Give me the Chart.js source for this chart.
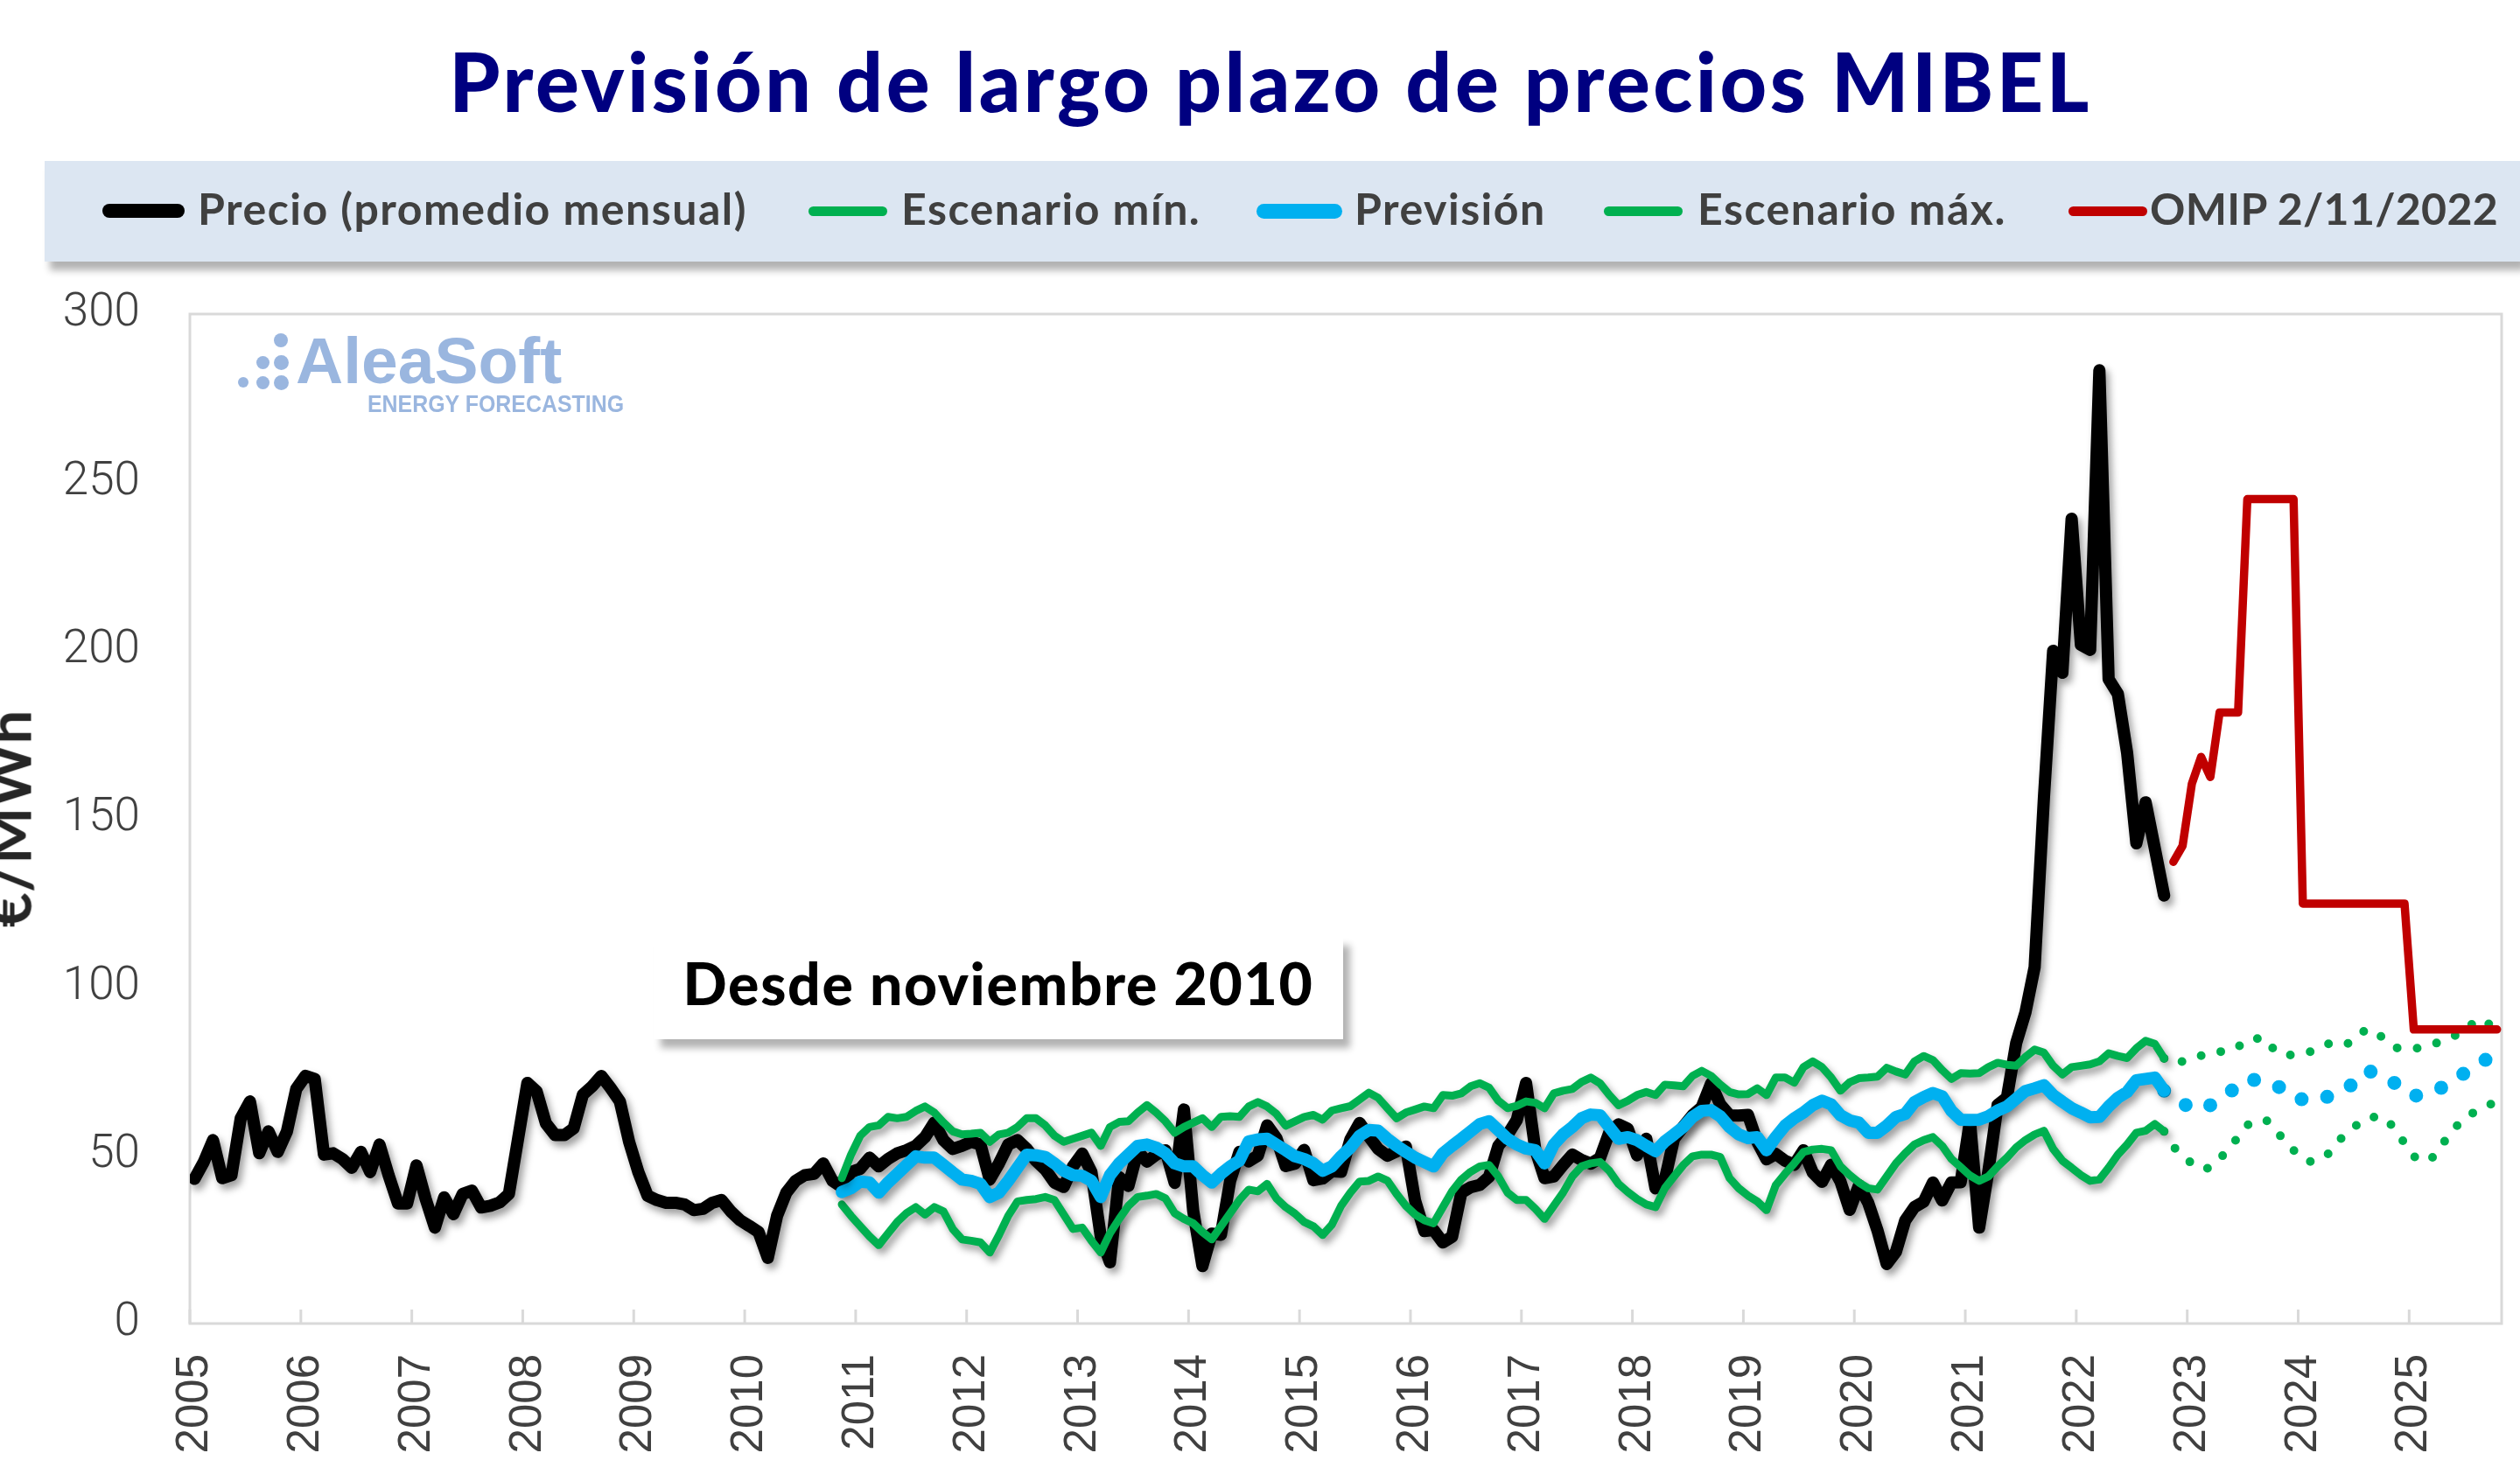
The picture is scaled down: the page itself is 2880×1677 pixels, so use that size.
<!DOCTYPE html>
<html>
<head>
<meta charset="utf-8">
<script src="https://cdn.jsdelivr.net/npm/chart.js@4.4.0/dist/chart.umd.min.js"></script>
<style>
  html, body { margin: 0; padding: 0; width: 2880px; height: 1677px; overflow: hidden; background: #fff; }
  #wrap { position: relative; width: 2880px; height: 1677px; overflow: hidden; }
  #c { position: absolute; left: 0; top: 0; }
  #title { position: absolute; left: 12px; width: 2880px; top: 46px; text-align: center;
    font: 900 93px/93px Lato, 'Open Sans', sans-serif; letter-spacing: 3.5px; color: #000080; white-space: nowrap; }
  #band { position: absolute; left: 51px; top: 184px; width: 2829px; height: 115px; background: #DCE6F2;
    box-shadow: 6px 10px 8px rgba(0,0,0,0.30); }
  .sw { position: absolute; }
  .lt { position: absolute; font: 700 50px/50px Lato, 'Open Sans', sans-serif; letter-spacing: 1.5px; color: #404040; white-space: nowrap; }
  #ytitle { position: absolute; font: 700 69px/69px Lato, 'Open Sans', sans-serif; color: #262626; white-space: nowrap;
    transform: translate(-50%, -50%) rotate(-90deg); left: 9px; top: 936px; }
  #note { position: absolute; left: 747px; top: 1071px; width: 788px; height: 117px; background: #fff;
    box-shadow: 8px 10px 8px rgba(0,0,0,0.30); }
  #note span { position: absolute; left: 0; right: 0; top: 20px; text-align: center;
    font: 900 66px/66px Lato, 'Open Sans', sans-serif; letter-spacing: 1.7px; color: #000; white-space: nowrap; }
  .dot { position: absolute; border-radius: 50%; background: #9AB6DF; }
  #logo1 { position: absolute; left: 338px; top: 375px; font: 700 75px/75px 'Liberation Sans', Arial, sans-serif; color: #9AB6DF; white-space: nowrap; }
  #logo2 { position: absolute; left: 420px; top: 448px; font: 700 28px/28px 'Liberation Sans', Arial, sans-serif; color: #9AB6DF;
    white-space: nowrap; transform: scaleX(0.89); transform-origin: left top; }
</style>
</head>
<body>
<div id="wrap">
  <canvas id="c" width="2880" height="1677"></canvas>
  <div id="title">Previsión de largo plazo de precios MIBEL</div>
  <div id="band"></div>
  <div id="legend"></div>
  <div id="ytitle">€/MWh</div>
  <div id="note"><span>Desde noviembre 2010</span></div>
  <div id="logo"></div>
  <div id="logo1">AleaSoft</div>
  <div id="logo2">ENERGY FORECASTING</div>
</div>
<script>
// month index 0 = Jan 2005, points sit in the middle of each month slot
const yearLabels = ['2005','2006','2007','2008','2009','2010','2011','2012','2013','2014','2015',
  '2016','2017','2018','2019','2020','2021','2022','2023','2024','2025'];

const seriesNames = ['Precio (promedio mensual)', 'Escenario mín.', 'Previsión', 'Escenario máx.', 'OMIP 2/11/2022'];

// Jan 2005 - Oct 2022
const precio = [
  43, 48, 54.5, 43.2, 44.1, 61, 66, 50.6, 57.1, 51, 57.1, 69.7,
  73.6, 72.7, 50.2, 50.6, 48.9, 46.3, 51, 45, 53.2, 44, 35.7, 35.7,
  47, 37, 28.5, 37.5, 32.5, 38.5, 39.5, 34.5, 35, 36, 38.5, 55,
  71.5, 69, 59.5, 56, 56, 58, 68, 70.5, 73.6, 70, 66, 54,
  45, 38, 36.7, 35.9, 35.9, 35.4, 33.7, 34.1, 35.9, 36.7, 33.3, 30.7,
  29, 27.2, 19.5, 32, 38.9, 42.4, 44.1, 44.5, 47.6, 42.4, 40.6, 45,
  46, 49.3, 46.7, 48.9, 50.6, 51.5, 52.8, 55.4, 59.7, 54.5, 51.9, 52.8,
  54, 53.2, 42.8, 47.6, 53.2, 54.5, 51.9, 48.4, 45.8, 41.9, 40.6, 46.7,
  50.5, 45, 25.9, 18.2, 43.5, 40.9, 51.2, 48.1, 50.2, 51.5, 41.8, 63.6,
  33.6, 17.1, 26.7, 26.4, 42.4, 51, 48.2, 49.9, 58.9, 55.1, 46.8, 47.5,
  51.6, 42.6, 43.1, 45.3, 45.1, 54.7, 59.6, 55.6, 51.9, 49.9, 51.2, 52.6,
  36.5, 27.5, 27.8, 24.1, 25.8, 38.9, 40.5, 41.2, 43.6, 52.8, 56.1, 60.5,
  71.5, 51.7, 43.2, 43.7, 47.1, 50.2, 48.6, 47.5, 49.2, 56.8, 59.2, 57.9,
  50, 54.9, 40.2, 42.7, 54.9, 58.5, 61.9, 64.3, 71.3, 65.1, 61.9, 61.8,
  62, 54, 48.8, 50.4, 48.4, 47.2, 51.5, 44.9, 42.1, 47.2, 42.2, 33.8,
  41.1, 35.9, 27.7, 17.7, 21.3, 30.6, 34.6, 36.2, 41.9, 36.6, 41.9, 42,
  60.2, 28.5, 45.4, 65, 67.1, 83.3, 92.4, 105.9, 156.1, 199.9, 193.4, 239.2,
  201.7, 200.2, 283.3, 191.5, 187.1, 169.6, 142.7, 154.9, 141.1, 127.2
];

// Nov 2010 - Oct 2025
const escMin = [
  35.4, 32,
  28.9, 25.9, 23.3, 26.8, 30.2, 32.8, 34.6, 32.4, 34.6, 33.3, 28.1, 25,
  24.6, 24.1, 21.1, 26.3, 32, 36.3, 36.7, 37, 37.6, 36.7, 32.4, 28.1,
  28.5, 24.6, 21.1, 26.8, 31.1, 35, 37.6, 38, 38.5, 37.2, 32.8, 31.1,
  29.8, 27.2, 25, 28.9, 32.8, 36.7, 39.8, 39.3, 41.5, 37.2, 34.6, 32.7,
  30.2, 28.9, 26.3, 29.4, 35, 38.9, 42.2, 42.4, 43.7, 42.5, 38.5, 35,
  32.4, 30.7, 29.8, 34.6, 39.3, 42.8, 45.1, 46.7, 47.1, 43.7, 38.9, 36.7,
  36.7, 34.1, 31.1, 35, 38.9, 43.7, 46.7, 47.6, 48, 45.4, 41.5, 39.1,
  37, 35.4, 34.6, 40.2, 43.7, 47.1, 49.7, 50.2, 50.2, 49.5, 43.2, 40.2,
  38, 36.3, 33.7, 41.1, 44.5, 47.6, 51, 51.7, 51.9, 51.5, 46.7, 44.1,
  41.9, 40.2, 39.8, 43.7, 47.6, 50.6, 53.2, 54.5, 55.4, 52.8, 48.9, 46.5,
  44, 42.4, 43.7, 46.7, 49.3, 52.3, 54.5, 56.2, 57.3, 51.9, 48.4, 46.3,
  44.1, 42.4, 42.8, 46.3, 50.2, 53.2, 56.7, 57.3, 59.3, 57.1,
  52.6, 49.7, 47.6, 45.8, 46.3, 48.9, 51.9, 55.4, 59, 60.1, 60.6, 57.5,
  54.5, 51.5, 48.9, 48, 48.9, 51, 54.6, 57.3, 59.3, 61.2, 61.4, 61,
  57.5, 53.6, 49.7, 48.1, 49.3, 52.8, 56.9, 59.7, 61.9, 63.6, 64.9, 65.8
];

const prevision = [
  39.1, 40.2,
  42.2, 41.9, 38.9, 41.9, 44.5, 47.1, 49.7, 49.3, 49.3, 47.1, 44.9, 42.8,
  42.4, 41.5, 37.6, 38.9, 42.4, 46.3, 50.2, 50, 49.5, 47.6, 45.4, 44.1,
  43.9, 42.4, 37.6, 44.1, 47.6, 50.2, 52.8, 53.2, 52.3, 50.6, 47.6, 46.7,
  46.7, 44.1, 41.9, 44.5, 46.7, 48.4, 54.1, 54.7, 54.9, 53.2, 51.5, 49.7,
  48.9, 47.6, 45.4, 46.7, 49.7, 52.3, 55.8, 57.5, 57.3, 54.9, 52.8, 51,
  49.3, 48, 46.7, 50.6, 52.8, 54.9, 57.1, 59.3, 60.1, 57.5, 54.9, 53.2,
  52, 51.5, 47.6, 53.2, 56.2, 58.4, 61, 62.1, 61.9, 58.4, 54.9, 55.4,
  54.5, 52.8, 51.2, 54.1, 56.2, 58.4, 61.4, 63.2, 63.4, 61.6, 58.4, 56.2,
  55.1, 55.4, 51.5, 55.4, 58.8, 61, 62.7, 64.9, 66.2, 65.1, 61.9, 60.4,
  59.7, 56.7, 56.7, 58.8, 61.4, 62.3, 65.8, 67.3, 68.5, 67.5, 63.2, 60.6,
  60.5, 60.6, 61.6, 63.3, 64.5, 66.8, 69.1, 69.9, 70.8, 67.9, 65.9, 64,
  62.7, 61.3, 61.4, 64.5, 67.1, 68.8, 72.3, 72.7, 73.1, 69.2,
  66.6, 65.3, 64.2, 63.6, 64.9, 66.6, 68.4, 71, 72.7, 72.3, 71.8, 71.1,
  69.2, 67.1, 66.6, 66.5, 66.5, 67.9, 69.2, 70.3, 72.9, 75.3, 74, 72.5,
  71.4, 69.2, 67.5, 68.4, 69.2, 70.1, 72.3, 73.6, 75.3, 77, 78.8, 80.1
];

const escMax = [
  43.2, 50.2,
  55.8, 58.4, 58.9, 61.4, 61, 61.4, 63.2, 64.5, 62.7, 59.7, 57.1, 56.2,
  56.4, 56.7, 54, 56.2, 56.7, 58.4, 61, 61, 58.9, 55.8, 54, 54.9,
  55.8, 56.7, 52.8, 58.4, 59.9, 60.1, 62.7, 64.9, 62.7, 60.1, 56.7, 58.4,
  59.7, 61, 58.4, 61.4, 61.6, 61.4, 64.5, 65.8, 64.5, 62.3, 58.8, 60.1,
  61.4, 62, 60.6, 63.3, 64, 64.6, 66.6, 68.6, 67.1, 64, 61, 62.7,
  63.6, 64.5, 64, 67.9, 67.7, 68.4, 70.5, 71.4, 70.1, 66.2, 64, 64.7,
  66, 65.6, 64, 68.4, 69.2, 69.7, 71.8, 73.1, 71.4, 67.9, 64.9, 66.2,
  67.9, 68.8, 67.9, 71, 70.8, 70.5, 73.6, 75.1, 73.6, 71, 68.8, 68.1,
  68.2, 69.9, 67.9, 73.1, 73.1, 71.6, 76.2, 77.9, 76.2, 73.1, 69.2, 71.7,
  72.9, 73.1, 73.4, 76, 74.9, 74, 77.9, 79.5, 78.3, 75.3, 72.7, 74.4,
  74.3, 74.4, 76.2, 77.5, 76.9, 76.6, 79.2, 81.4, 80.5, 76.6, 74, 76.2,
  76.6, 77, 77.9, 80.3, 79.5, 78.9, 81.8, 84, 83.1, 78.8,
  77, 77.9, 78.6, 79.6, 80.5, 80.8, 80.9, 82.2, 84.4, 84.7, 84.7, 80.9,
  79.8, 79.8, 80.3, 80.9, 81.8, 83.5, 83.8, 83.2, 85.7, 87.6, 86.1, 84.4,
  82, 81.6, 81.7, 82.1, 82.8, 84, 85.2, 86.1, 88.3, 90.5, 89.2, 87.4
];

// Nov 2022 - Oct 2025
const omip = [
  137.2, 142,
  160.4, 168.4, 162.4, 181.6, 181.6, 181.6, 245, 245, 245, 245, 245, 245,
  124.8, 124.8, 124.8, 124.8, 124.8, 124.8, 124.8, 124.8, 124.8, 124.8, 124.8, 124.8,
  87.4, 87.4, 87.4, 87.4, 87.4, 87.4, 87.4, 87.4, 87.4, 87.4
];

const PRECIO_START = 0;     // Jan 2005
const ESC_START = 70;       // Nov 2010
const OMIP_START = 214;     // Nov 2022
const SPLIT = 213;          // last solid month of the scenarios (Oct 2022)

const pts = (arr, start) => arr.map((v, i) => ({ x: start + i + 0.5, y: v }));
const solid = (arr) => pts(arr.slice(0, SPLIT - ESC_START + 1), ESC_START);
const dotted = (arr) => pts(arr.slice(SPLIT - ESC_START), SPLIT);

const BLACK = '#000000', GREEN = '#00B050', BLUE = '#00B0F0', RED = '#C00000';

// legend (html)
const legendLayout = [
  { sx: 117, sw: 94, th: 16, color: BLACK, tx: 226, ls: 1.5 },
  { sx: 924, sw: 90, th: 11, color: GREEN, tx: 1030, ls: 1.5 },
  { sx: 1436, sw: 98, th: 17, color: BLUE, tx: 1548, ls: 1.5 },
  { sx: 1833, sw: 90, th: 11, color: GREEN, tx: 1940, ls: 1.5 },
  { sx: 2364, sw: 90, th: 11, color: RED, tx: 2457, ls: 0.3 }
];
const legendEl = document.getElementById('legend');
seriesNames.forEach((name, i) => {
  const l = legendLayout[i];
  const sw = document.createElement('div');
  sw.className = 'sw';
  sw.style.cssText = `left:${l.sx}px;top:${241 - l.th / 2}px;width:${l.sw}px;height:${l.th}px;background:${l.color};border-radius:${l.th / 2}px;`;
  legendEl.appendChild(sw);
  const t = document.createElement('div');
  t.className = 'lt';
  t.style.left = l.tx + 'px';
  t.style.top = '213px';
  t.style.letterSpacing = l.ls + 'px';
  t.textContent = name;
  legendEl.appendChild(t);
});

// logo dots
const logoEl = document.getElementById('logo');
[[278, 437, 12], [300, 414, 15], [300, 437, 15], [321, 389, 16], [321, 414, 17], [321, 437, 17]].forEach(d => {
  const e = document.createElement('div');
  e.className = 'dot';
  e.style.cssText = `left:${d[0] - d[2] / 2}px;top:${d[1] - d[2] / 2}px;width:${d[2]}px;height:${d[2]}px;`;
  logoEl.appendChild(e);
});

const shadowPlugin = {
  id: 'lineShadow',
  beforeDatasetDraw(chart, args) {
    if (!chart.data.datasets[args.index].shadow) return;
    const ctx = chart.ctx;
    ctx.save();
    ctx.shadowColor = 'rgba(0,0,0,0.38)';
    ctx.shadowBlur = 9;
    ctx.shadowOffsetX = 4;
    ctx.shadowOffsetY = 6;
  },
  afterDatasetDraw(chart, args) {
    if (chart.data.datasets[args.index].shadow) chart.ctx.restore();
  }
};

const framePlugin = {
  id: 'frame',
  beforeDatasetsDraw(chart) {
    const { ctx, chartArea: a, scales: { x } } = chart;
    ctx.save();
    ctx.strokeStyle = '#D9D9D9';
    ctx.lineWidth = 3;
    ctx.strokeRect(a.left, a.top, a.right - a.left, a.bottom - a.top);
    x.ticks.forEach(t => {
      const px = x.getPixelForValue(t.value);
      ctx.beginPath();
      ctx.moveTo(px, a.bottom);
      ctx.lineTo(px, a.bottom - 16);
      ctx.stroke();
    });
    ctx.restore();
  }
};

new Chart(document.getElementById('c'), {
  type: 'line',
  data: {
    datasets: [
      { label: seriesNames[0], data: pts(precio, PRECIO_START), borderColor: BLACK, borderWidth: 14, order: 5, shadow: true },
      { label: seriesNames[1], data: solid(escMin), borderColor: GREEN, borderWidth: 9, order: 4, shadow: true },
      { label: seriesNames[1], data: dotted(escMin), borderColor: GREEN, borderWidth: 10, borderDash: [0, 23], order: 4 },
      { label: seriesNames[2], data: solid(prevision), borderColor: BLUE, borderWidth: 14, order: 3, shadow: true },
      { label: seriesNames[2], data: dotted(prevision), borderColor: BLUE, borderWidth: 16, borderDash: [0, 30], order: 3 },
      { label: seriesNames[3], data: solid(escMax), borderColor: GREEN, borderWidth: 9, order: 2, shadow: true },
      { label: seriesNames[3], data: dotted(escMax), borderColor: GREEN, borderWidth: 10, borderDash: [0, 23], order: 2 },
      { label: seriesNames[4], data: pts(omip, OMIP_START), borderColor: RED, borderWidth: 9.5, order: 1 }
    ]
  },
  options: {
    responsive: false,
    animation: false,
    devicePixelRatio: 1,
    layout: { padding: { left: 0, right: 21, top: 359, bottom: 0 } },
    plugins: { legend: { display: false }, tooltip: { enabled: false }, title: { display: false } },
    elements: {
      point: { radius: 0, hoverRadius: 0 },
      line: { tension: 0, borderJoinStyle: 'round', borderCapStyle: 'round', fill: false }
    },
    scales: {
      x: {
        type: 'linear', min: 0, max: 250,
        grid: { display: false, drawTicks: false },
        border: { display: false },
        afterBuildTicks: s => { s.ticks = yearLabels.map((_, i) => ({ value: i * 12 })); },
        afterFit: s => { s.height = 164; },
        ticks: {
          autoSkip: false, minRotation: 90, maxRotation: 90, padding: 35, labelOffset: 6,
          color: '#404040', font: { family: "'Liberation Sans', Arial, sans-serif", size: 51 },
          callback: v => yearLabels[Math.round(v / 12)]
        }
      },
      y: {
        min: 0, max: 300,
        grid: { display: false, drawTicks: false },
        border: { display: false },
        afterFit: s => { s.width = 217; },
        ticks: {
          stepSize: 50, padding: 57, color: '#404040',
          font: { family: 'Roboto, sans-serif', size: 53, weight: '300' }
        }
      }
    }
  },
  plugins: [framePlugin, shadowPlugin]
});
</script>
</body>
</html>
